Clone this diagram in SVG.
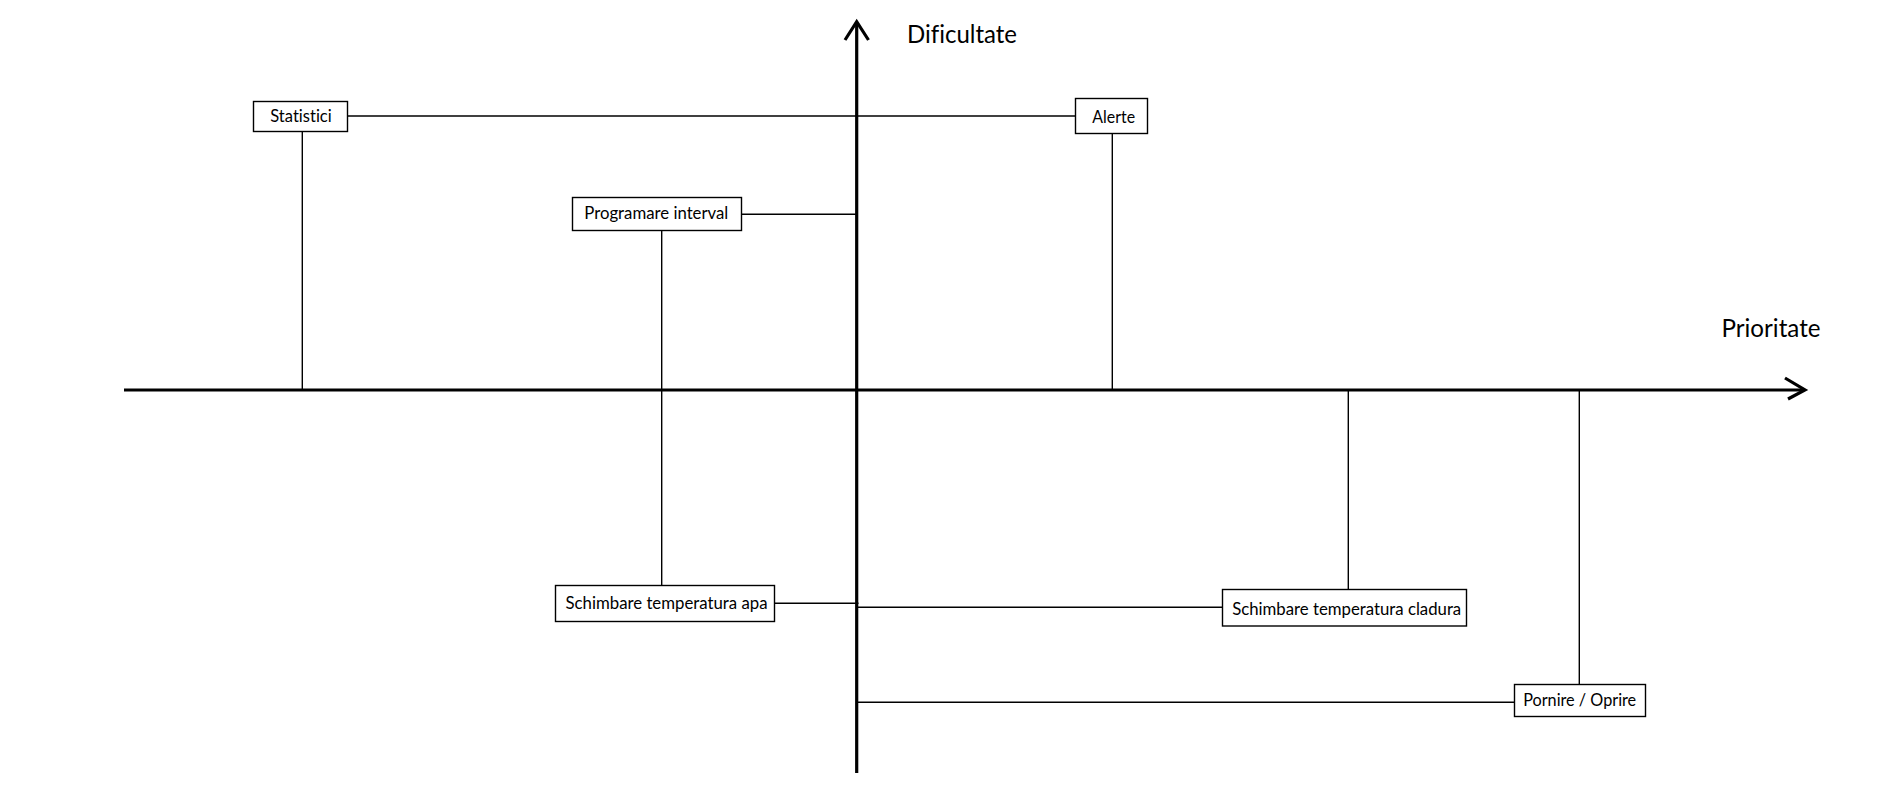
<svg xmlns="http://www.w3.org/2000/svg" width="1903" height="805" viewBox="0 0 1903 805">
<style>
.box{fill:#fff;stroke:#000;stroke-width:1.4}
.lbl{font-family:Lato,"Liberation Sans",sans-serif;font-size:18px;fill:#000;text-anchor:middle;font-variant-ligatures:none}
.ax{font-family:Lato,"Liberation Sans",sans-serif;font-size:25px;fill:#000;font-variant-ligatures:none}
.ln{stroke:#000;stroke-width:1.4;fill:none}
.axis{stroke:#000;stroke-width:3.2;fill:none;stroke-linecap:butt}
</style>
<rect width="1903" height="805" fill="#fff"/>
<g id="axes">
<line class="axis" x1="124" y1="390" x2="1804" y2="390"/>
<polyline class="axis" points="1785,378 1805,390 1788,399"/>
<line class="axis" x1="856.7" y1="773" x2="856.7" y2="23"/>
<polyline class="axis" points="845,40 856.7,21.7 868.5,40"/>
<text class="ax" x="907" y="43" textLength="110" lengthAdjust="spacingAndGlyphs">Dificultate</text>
<text class="ax" x="1721.5" y="337" textLength="99" lengthAdjust="spacingAndGlyphs">Prioritate</text>
</g>
<g id="connectors">
<line class="ln" x1="347.5" y1="116" x2="1075.5" y2="116"/>
<line class="ln" x1="302.3" y1="131.5" x2="302.3" y2="390"/>
<line class="ln" x1="1112.3" y1="133.5" x2="1112.3" y2="390"/>
<line class="ln" x1="741.5" y1="214.3" x2="856" y2="214.3"/>
<line class="ln" x1="661.7" y1="230.5" x2="661.7" y2="585.5"/>
<line class="ln" x1="774.5" y1="603.3" x2="858.5" y2="603.3"/>
<line class="ln" x1="857" y1="607.3" x2="1222.5" y2="607.3"/>
<line class="ln" x1="1348.3" y1="390" x2="1348.3" y2="589.5"/>
<line class="ln" x1="857" y1="702.3" x2="1514.5" y2="702.3"/>
<line class="ln" x1="1579.3" y1="390" x2="1579.3" y2="684.5"/>
</g>
<g id="statistici">
<rect class="box" x="253.5" y="101.5" width="94" height="30"/>
<text class="lbl" x="301" y="121.7" textLength="61.5" lengthAdjust="spacingAndGlyphs">Statistici</text>
</g>
<g id="alerte">
<rect class="box" x="1075.5" y="98.5" width="72" height="35"/>
<text class="lbl" x="1113.7" y="122.7" textLength="42.7" lengthAdjust="spacingAndGlyphs">Alerte</text>
</g>
<g id="programare">
<rect class="box" x="572.5" y="197.5" width="169" height="33"/>
<text class="lbl" x="656.3" y="219" textLength="144" lengthAdjust="spacingAndGlyphs">Programare interval</text>
</g>
<g id="apa">
<rect class="box" x="555.5" y="585.5" width="219" height="36"/>
<text class="lbl" x="666.5" y="609" textLength="202" lengthAdjust="spacingAndGlyphs">Schimbare temperatura apa</text>
</g>
<g id="cladura">
<rect class="box" x="1222.5" y="589.5" width="244" height="36.5"/>
<text class="lbl" x="1346.7" y="615" textLength="229" lengthAdjust="spacingAndGlyphs">Schimbare temperatura cladura</text>
</g>
<g id="pornire">
<rect class="box" x="1514.5" y="684.5" width="131" height="32"/>
<text class="lbl" x="1579.7" y="705.7" textLength="113" lengthAdjust="spacingAndGlyphs">Pornire / Oprire</text>
</g>
</svg>
